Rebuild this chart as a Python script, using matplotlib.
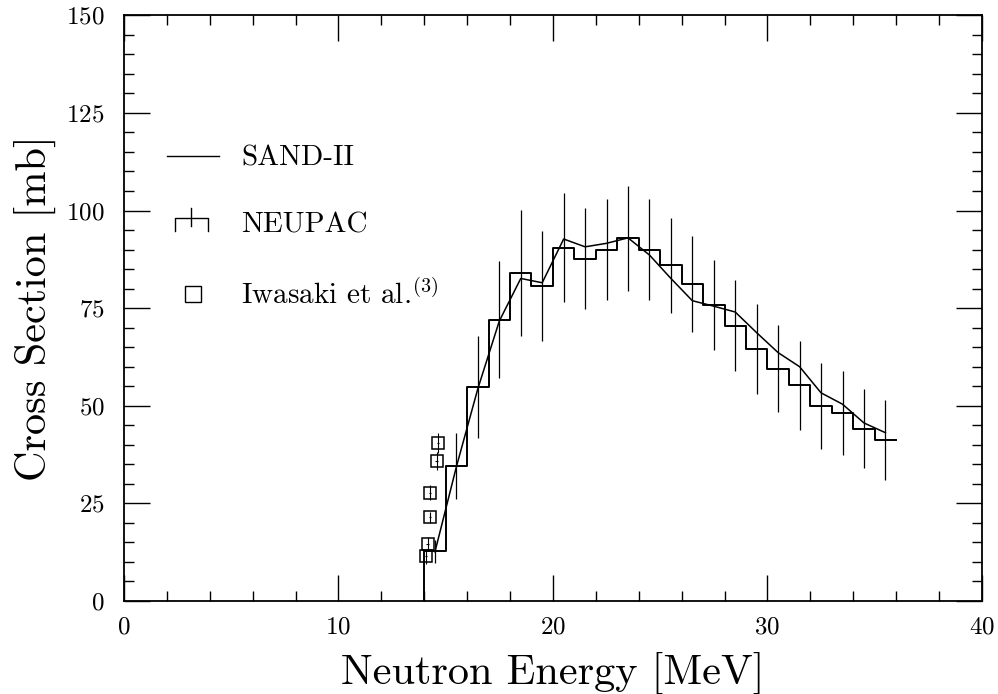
import numpy as np
import matplotlib
matplotlib.use("Agg")
import matplotlib.pyplot as plt
from matplotlib.legend_handler import HandlerBase
from matplotlib.lines import Line2D
from matplotlib.ticker import MultipleLocator

plt.rcParams["font.family"] = ["cmr10", "DejaVu Serif"]
plt.rcParams["mathtext.fontset"] = "cm"
plt.rcParams["axes.unicode_minus"] = False
plt.rcParams["axes.formatter.use_mathtext"] = True

# NEUPAC histogram: bin edges [MeV], cross section per bin [mb], error bars
bin_edges = np.arange(14, 37, 1.0)
neupac = [12.7, 34.5, 54.8, 72.0, 84.0, 80.7, 90.5, 87.7, 90.0, 92.9, 90.0,
          86.0, 81.3, 75.8, 70.5, 64.5, 59.5, 55.3, 50.0, 48.1, 44.1, 41.3]
neupac_err = [3.0, 8.4, 13.0, 15.0, 16.2, 14.0, 14.0, 13.0, 13.0, 13.5, 13.0,
              12.2, 12.3, 11.6, 11.6, 11.5, 11.2, 11.4, 11.0, 10.8, 10.1, 10.2]

# SAND-II evaluation
sand_e = [14.5, 15.5, 16.5, 17.5, 18.5, 19.5, 20.5, 21.5, 22.5, 23.5, 24.5,
          25.5, 26.5, 27.5, 28.5, 29.5, 30.5, 31.5, 32.5, 33.5, 34.5, 35.5]
sand_xs = [12.6, 34.4, 54.4, 71.7, 82.6, 81.5, 92.7, 90.7, 91.6, 93.0, 88.6,
           82.6, 76.9, 75.5, 74.0, 68.7, 63.6, 60.0, 53.3, 50.4, 45.6, 43.1]

# Iwasaki et al. measurements
iw_e = [14.65, 14.58, 14.27, 14.27, 14.16, 14.08]
iw_xs = [40.5, 35.9, 27.7, 21.4, 14.6, 11.5]
iw_err = [2.6, 2.3, 1.9, 1.5, 1.7, 1.9]


class NeupacHandler(HandlerBase):
    def create_artists(self, legend, orig_handle, xdescent, ydescent,
                       width, height, fontsize, trans):
        x0 = -xdescent + 0.15 * width
        x1 = -xdescent + 0.78 * width
        xm = 0.5 * (x0 + x1)
        yt = -ydescent + 0.75 * height
        yb = -ydescent + 0.1 * height
        box = Line2D([x0, x0, x1, x1], [yb, yt, yt, yb], color="k", lw=1.0,
                     transform=trans)
        bar = Line2D([xm, xm], [yt - 0.4 * height, yt + 0.45 * height],
                     color="k", lw=1.0, transform=trans)
        return [box, bar]


fig = plt.figure(figsize=(9.98, 6.94), dpi=100)
ax = fig.add_axes([0.1242, 0.134, 0.8597, 0.844])

centers = 0.5 * (bin_edges[:-1] + bin_edges[1:])
step_x = np.r_[bin_edges[0], bin_edges]
step_y = np.r_[0, neupac, neupac[-1]]
ax.step(step_x, step_y, where="post", color="k", lw=1.4)
ax.errorbar(centers, neupac, yerr=neupac_err, fmt="none", ecolor="k",
            elinewidth=0.9, capsize=0)

ax.plot(sand_e, sand_xs, color="k", lw=1.1)

ax.errorbar(iw_e, iw_xs, yerr=iw_err, xerr=0.06, fmt="s", mfc="none",
            mec="k", mew=1.1, ms=9, ecolor="k", elinewidth=0.8, capsize=0)

ax.set_xlim(0, 40)
ax.set_ylim(0, 150)
ax.xaxis.set_major_locator(MultipleLocator(10))
ax.xaxis.set_minor_locator(MultipleLocator(2))
ax.yaxis.set_major_locator(MultipleLocator(25))
ax.yaxis.set_minor_locator(MultipleLocator(5))
ax.tick_params(which="both", direction="in", top=True, right=True,
               width=1.0, colors="k")
ax.tick_params(which="major", length=19, labelsize=18, pad=14)
ax.tick_params(which="minor", length=7)
ax.tick_params(axis="x", which="major", pad=11)
for sp in ax.spines.values():
    sp.set_linewidth(1.3)

ax.set_xlabel("Neutron Energy [MeV]", fontsize=30.5, labelpad=10)
ax.set_ylabel("Cross Section [mb]", fontsize=30.5, labelpad=7)

handles = [Line2D([], [], color="k", lw=1.0), "neupac",
           Line2D([], [], ls="none", marker="s", mfc="none", mec="k", ms=12)]
labels = ["SAND-II", "NEUPAC", r"Iwasaki et al.$^{(3)}$"]
ax.legend(handles, labels, handler_map={str: NeupacHandler()},
          loc="upper left", bbox_to_anchor=(0.05, 0.778), frameon=False,
          fontsize=21, handlelength=1.8, handletextpad=0.75, labelspacing=1.4,
          borderpad=0, borderaxespad=0)

fig.savefig("out.png", dpi=100)
